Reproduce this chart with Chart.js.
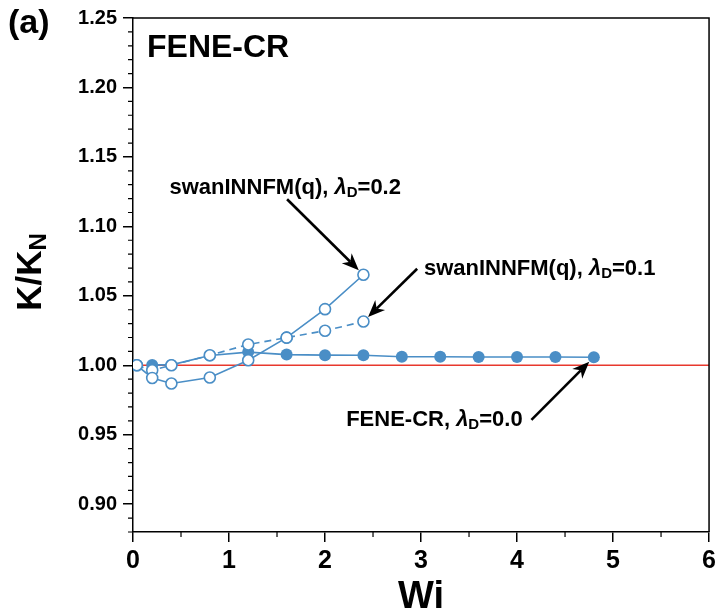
<!DOCTYPE html>
<html>
<head>
<meta charset="utf-8">
<script src="https://cdn.jsdelivr.net/npm/chart.js@4.4.1/dist/chart.umd.min.js"></script>
<style>
  html, body { margin: 0; padding: 0; background: #fff; }
  #wrap { width: 720px; height: 616px; }
</style>
</head>
<body>
<div id="wrap"><canvas id="kChart" width="720" height="616"></canvas></div>
<script>
// swanINNFM(q), lambda_D = 0.2 (solid line, open symbols)
const wiLam02 = [0.04, 0.2, 0.4, 0.8, 1.2, 1.6, 2.0, 2.4];
const kLam02 = [1.000, 0.9909, 0.9869, 0.9912, 1.0036, 1.0199, 1.0404, 1.0652];
// swanINNFM(q), lambda_D = 0.1 (dashed line, open symbols)
const wiLam01 = [0.04, 0.2, 0.4, 0.8, 1.2, 1.6, 2.0, 2.4];
const kLam01 = [1.000, 0.9964, 1.0000, 1.0072, 1.0150, 1.0199, 1.0249, 1.0315];
// FENE-CR, lambda_D = 0.0 (filled symbols)
const wiFene = [0.2, 0.4, 0.8, 1.2, 1.6, 2.0, 2.4, 2.8, 3.2, 3.6, 4.0, 4.4, 4.8];
const kFene = [1.0003, 1.0003, 1.0070, 1.0095, 1.0077, 1.0073, 1.0072, 1.0062, 1.0061, 1.0060, 1.0060, 1.0060, 1.0058];
// Newtonian reference K/K_N = 1
const wiNewt = [0, 6];
const kNewt = [1, 1];

const xTicks = [0, 1, 2, 3, 4, 5, 6];
const yTicks = [0.90, 0.95, 1.00, 1.05, 1.10, 1.15, 1.20, 1.25];

const BLUE = "#4a8ec6";
const FONT = "'Liberation Sans', Arial, Helvetica, sans-serif";

const pts = (xs, ys) => xs.map((x, i) => ({ x, y: ys[i] }));

// callouts: label anchor, arrow tail and the point it marks (data units)
const callouts = [
  { text: "swanINNFM(q), ", val: "=0.2", tx: 0.38, ty: 1.128, ax: 1.605, ay: 1.1195, px: wiLam02[7], py: kLam02[7] },
  { text: "swanINNFM(q), ", val: "=0.1", tx: 3.03, ty: 1.0695, ax: 2.96, ay: 1.0695, px: wiLam01[7], py: kLam01[7] },
  { text: "FENE-CR, ", val: "=0.0", tx: 2.22, ty: 0.9607, ax: 4.15, ay: 0.9607, px: wiFene[12], py: kFene[12] }
];

function richText(ctx, parts, x, y) {
  let w = 0;
  parts.forEach(p => { ctx.font = p.font; p.w = ctx.measureText(p.t).width; w += p.w; });
  let cx = x;
  ctx.textAlign = "left";
  ctx.textBaseline = "middle";
  parts.forEach(p => {
    ctx.font = p.font;
    ctx.fillText(p.t, cx, y + (p.dy || 0));
    cx += p.w;
  });
  return w;
}

function arrow(ctx, x1, y1, x2, y2) {
  const ang = Math.atan2(y2 - y1, x2 - x1);
  const c = Math.cos(ang), s = Math.sin(ang);
  const len = 17, half = 7, notch = 5;
  const bx = x2 - len * c, by = y2 - len * s;
  ctx.beginPath();
  ctx.moveTo(x1, y1);
  ctx.lineTo(bx + notch * c, by + notch * s);
  ctx.lineWidth = 2.6;
  ctx.strokeStyle = "#000";
  ctx.stroke();
  ctx.beginPath();
  ctx.moveTo(x2, y2);
  ctx.lineTo(bx - s * half, by + c * half);
  ctx.lineTo(bx + notch * c, by + notch * s);
  ctx.lineTo(bx + s * half, by - c * half);
  ctx.closePath();
  ctx.fillStyle = "#000";
  ctx.fill();
}

const decorations = {
  id: "decorations",
  afterDraw(chart) {
    const { ctx, chartArea: a, scales: { x, y } } = chart;
    ctx.save();
    // frame top and right
    ctx.strokeStyle = "#000";
    ctx.lineWidth = 1.5;
    ctx.beginPath();
    ctx.moveTo(a.left, a.top);
    ctx.lineTo(a.right, a.top);
    ctx.lineTo(a.right, a.bottom);
    ctx.stroke();
    // minor ticks
    ctx.lineWidth = 1.2;
    ctx.beginPath();
    for (let v = 0.5; v < 6; v += 1) {
      const px = x.getPixelForValue(v);
      ctx.moveTo(px, a.bottom);
      ctx.lineTo(px, a.bottom + 5);
    }
    for (let i = 88; i <= 125; i++) {
      if (i % 5 === 0) continue;
      const py = y.getPixelForValue(i / 100);
      ctx.moveTo(a.left, py);
      ctx.lineTo(a.left - 5, py);
    }
    ctx.stroke();

    ctx.fillStyle = "#000";
    // axis titles
    ctx.textAlign = "center";
    ctx.textBaseline = "middle";
    ctx.font = "bold 38px " + FONT;
    ctx.fillText("Wi", (a.left + a.right) / 2, 598);
    ctx.save();
    ctx.translate(31, 272);
    ctx.rotate(-Math.PI / 2);
    ctx.font = "bold 35px " + FONT;
    const w1 = ctx.measureText("K/K").width;
    ctx.font = "bold 24px " + FONT;
    const w2 = ctx.measureText("N").width;
    richText(ctx, [
      { t: "K/K", font: "bold 35px " + FONT },
      { t: "N", font: "bold 24px " + FONT, dy: 8 }
    ], -(w1 + w2) / 2, 0);
    ctx.restore();

    // panel labels
    ctx.textAlign = "left";
    ctx.font = "bold 34px " + FONT;
    ctx.fillText("(a)", 8, 24);
    ctx.font = "bold 32px " + FONT;
    ctx.fillText("FENE-CR", 147, 48);

    // callouts
    callouts.forEach(c => {
      const tx = x.getPixelForValue(c.tx), ty = y.getPixelForValue(c.ty);
      ctx.fillStyle = "#000";
      richText(ctx, [
        { t: c.text, font: "bold 22px " + FONT },
        { t: "\u03bb", font: "italic bold 22px " + FONT },
        { t: "D", font: "bold 15px " + FONT, dy: 5 },
        { t: c.val, font: "bold 22px " + FONT }
      ], tx, ty);
      const ax = x.getPixelForValue(c.ax), ay = y.getPixelForValue(c.ay);
      const px = x.getPixelForValue(c.px), py = y.getPixelForValue(c.py);
      const d = Math.hypot(px - ax, py - ay);
      const r = 6.5;
      arrow(ctx, ax, ay, px - (px - ax) * r / d, py - (py - ay) * r / d);
    });
    ctx.restore();
  }
};

new Chart(document.getElementById("kChart"), {
  type: "scatter",
  data: {
    datasets: [
      {
        label: "swanINNFM(q), lambda_D=0.2",
        data: pts(wiLam02, kLam02),
        showLine: true,
        borderColor: BLUE,
        borderWidth: 1.6,
        pointRadius: 5.5,
        pointBorderWidth: 1.6,
        pointBackgroundColor: "#fff",
        pointBorderColor: BLUE
      },
      {
        label: "swanINNFM(q), lambda_D=0.1",
        data: pts(wiLam01, kLam01),
        showLine: true,
        borderColor: BLUE,
        borderWidth: 1.6,
        borderDash: [7, 5],
        pointRadius: 5.5,
        pointBorderWidth: 1.6,
        pointBackgroundColor: "#fff",
        pointBorderColor: BLUE
      },
      {
        label: "FENE-CR, lambda_D=0.0",
        data: pts(wiFene, kFene),
        showLine: true,
        borderColor: BLUE,
        borderWidth: 1.6,
        pointRadius: 6,
        pointBorderWidth: 0,
        pointBackgroundColor: BLUE,
        pointBorderColor: BLUE
      },
      {
        label: "Newtonian",
        data: pts(wiNewt, kNewt),
        showLine: true,
        borderColor: "#e8382d",
        borderWidth: 1.5,
        pointRadius: 0
      }
    ]
  },
  options: {
    responsive: false,
    animation: false,
    layout: { padding: { top: 16, right: 9, left: 0, bottom: 0 } },
    plugins: { legend: { display: false }, tooltip: { enabled: false } },
    scales: {
      x: {
        type: "linear",
        min: 0,
        max: 6,
        afterFit: s => { s.height = 84; },
        afterBuildTicks: s => { s.ticks = xTicks.map(v => ({ value: v })); },
        grid: { drawOnChartArea: false, drawTicks: true, tickLength: 10, color: "#000", lineWidth: 1.5 },
        border: { display: true, color: "#000", width: 1.5 },
        ticks: { color: "#000", padding: 4, font: { family: FONT, size: 25, weight: "bold" }, callback: v => v }
      },
      y: {
        type: "linear",
        min: 0.88,
        max: 1.25,
        afterFit: s => { s.width = 133; },
        afterBuildTicks: s => { s.ticks = yTicks.map(v => ({ value: v })); },
        grid: { drawOnChartArea: false, drawTicks: true, tickLength: 10, color: "#000", lineWidth: 1.5 },
        border: { display: true, color: "#000", width: 1.5 },
        ticks: { color: "#000", padding: 6, font: { family: FONT, size: 20, weight: "bold" }, callback: v => v.toFixed(2) }
      }
    }
  },
  plugins: [decorations]
});
</script>
</body>
</html>
